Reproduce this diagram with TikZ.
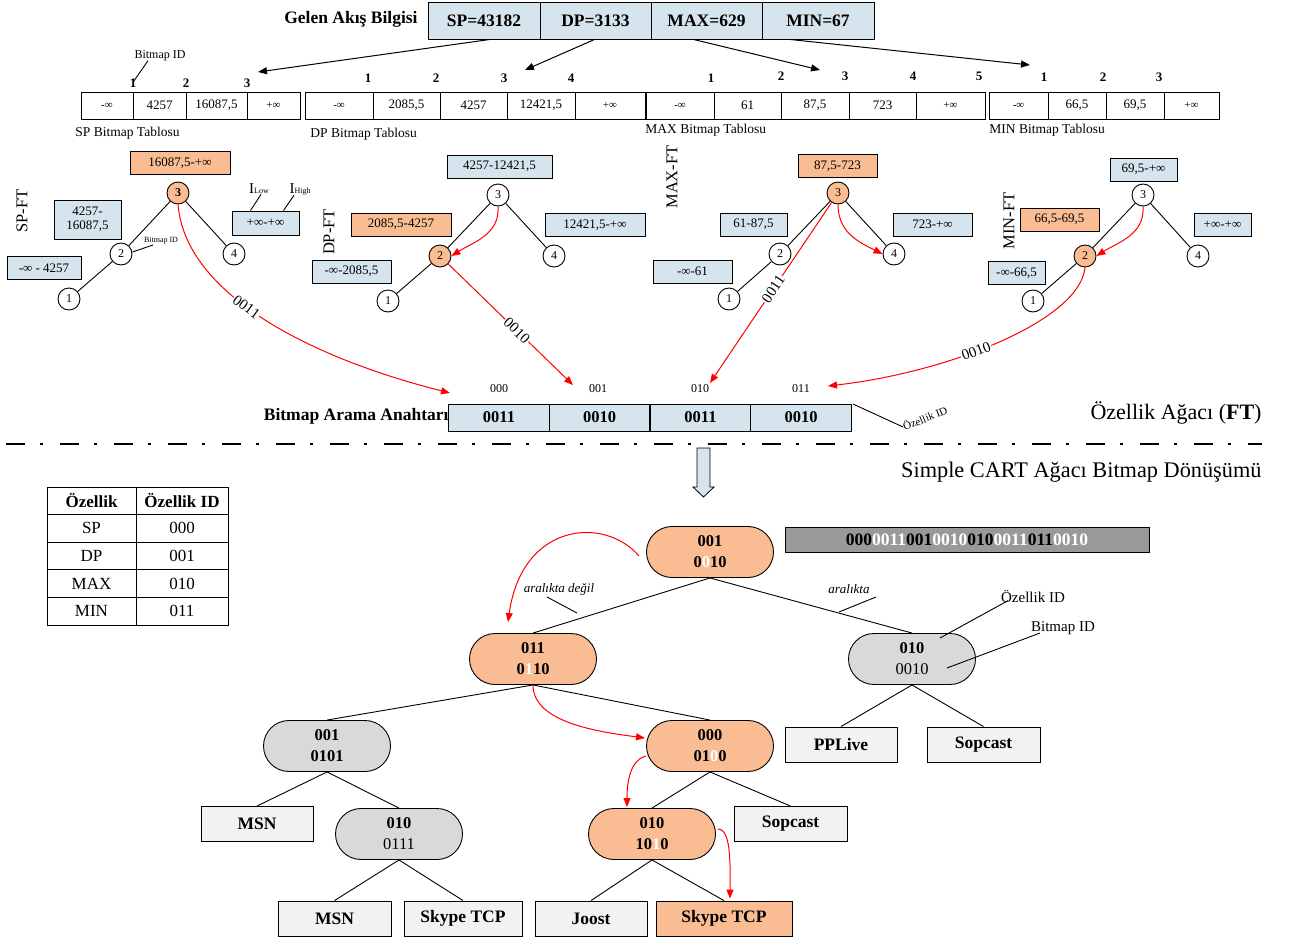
\documentclass[tikz,border=0pt]{standalone}
\usepackage{fontspec}
\setmainfont{Liberation Serif}
\usetikzlibrary{arrows.meta,shapes.misc,calc}
\definecolor{lblue}{RGB}{214,228,237}
\definecolor{lorange}{RGB}{250,188,146}
\definecolor{pillgray}{RGB}{217,217,217}
\definecolor{leafgray}{RGB}{242,242,242}
\definecolor{bargray}{RGB}{153,153,153}
\newcommand\fsz[1]{\fontsize{#1}{#1}\selectfont}
\tikzset{
  hdr/.style={draw, fill=lblue, minimum height=37pt, font=\fsz{17.5}\bfseries},
  tcell/.style={draw, fill=white, minimum height=27pt, font=\fsz{13}},
  infcell/.style={tcell, font=\fsz{11}},
  idnum/.style={font=\fsz{13}\bfseries},
  tcap/.style={font=\fsz{13.5}, anchor=west},
  rng/.style={draw, fill=lblue, font=\fsz{13}, minimum height=23pt},
  rngo/.style={rng, fill=lorange},
  cnode/.style={circle, draw, fill=white, minimum size=22pt, font=\fsz{12}},
  cnodeo/.style={cnode, fill=lorange},
  ftlabel/.style={rotate=90, font=\fsz{16.5}},
  blk/.style={line width=1pt, -{Triangle[length=9pt,width=7pt]}},
  redarr/.style={red, line width=1pt, -{Triangle[length=9pt,width=7pt]}},
  codelbl/.style={sloped, fill=white, inner sep=1pt, font=\fsz{15}, text=black},
  keycell/.style={draw, fill=lblue, minimum width=100.5pt, minimum height=27pt, font=\fsz{16.5}\bfseries},
  keyid/.style={font=\fsz{12}},
  pill/.style={rounded rectangle, draw, minimum width=127pt, minimum height=51pt, align=center,
               font=\fontsize{16.5}{21}\selectfont\bfseries},
  pillo/.style={pill, fill=lorange},
  pillg/.style={pill, fill=pillgray},
  leaf/.style={draw, fill=leafgray, minimum width=112pt, minimum height=35pt, font=\fsz{17.5}\bfseries},
  tab/.style={draw, minimum height=27.6pt, font=\fsz{17}},
}
\begin{document}
\begin{tikzpicture}[x=1pt, y=-1pt, every node/.style={inner sep=0pt}, line width=0.9pt]
\useasboundingbox (0,0) rectangle (1294,940);

% ---------- incoming flow record ----------
\node[anchor=east, font=\fsz{17.5}\bfseries] (gelen) at (418,19) {Gelen Akış Bilgisi};
\node[hdr, minimum width=112pt] (hsp)  at (484,20.5)   {SP=43182};
\node[hdr, minimum width=111pt] (hdp)  at (595.5,20.5) {DP=3133};
\node[hdr, minimum width=111pt] (hmax) at (706.5,20.5) {MAX=629};
\node[hdr, minimum width=112pt] (hmin) at (818,20.5)   {MIN=67};

\coordinate (spin)  at (258,72);
\coordinate (dpin)  at (525,70);
\coordinate (maxin) at (820,70);
\coordinate (minin) at (1030,65);
\draw[blk] ([xshift=6pt]hsp.south)   -- (spin);
\draw[blk] ([xshift=-1pt]hdp.south)  -- (dpin);
\draw[blk] ([xshift=-13pt]hmax.south) -- (maxin);
\draw[blk] ([xshift=-28pt]hmin.south) -- (minin);

% ---------- bitmap tables ----------
\node[infcell, minimum width=52pt] (sp1) at (107,105.5)   {-∞};
\node[tcell, minimum width=53pt]   (sp2) at (159.5,105.5) {4257};
\node[tcell, minimum width=61pt]   (sp3) at (216.5,105.5) {16087,5};
\node[infcell, minimum width=53pt] (sp4) at (273.5,105.5) {+∞};

\node[infcell, minimum width=68pt] (dp1) at (339,105.5)   {-∞};
\node[tcell, minimum width=67pt]   (dp2) at (406.5,105.5) {2085,5};
\node[tcell, minimum width=67pt]   (dp3) at (473.5,105.5) {4257};
\node[tcell, minimum width=68pt]   (dp4) at (541,105.5)   {12421,5};
\node[infcell, minimum width=70pt] (dp5) at (610,105.5)   {+∞};

\node[infcell, minimum width=68pt] (mx1) at (680,105.5)   {-∞};
\node[tcell, minimum width=67pt]   (mx2) at (747.5,105.5) {61};
\node[tcell, minimum width=68pt]   (mx3) at (815,105.5)   {87,5};
\node[tcell, minimum width=67pt]   (mx4) at (882.5,105.5) {723};
\node[infcell, minimum width=69pt] (mx5) at (950.5,105.5) {+∞};

\node[infcell, minimum width=59pt] (mn1) at (1018.5,105.5) {-∞};
\node[tcell, minimum width=58pt]   (mn2) at (1077,105.5)   {66,5};
\node[tcell, minimum width=58pt]   (mn3) at (1135,105.5)   {69,5};
\node[infcell, minimum width=55pt] (mn4) at (1191.5,105.5) {+∞};

% bitmap ids above the boundaries
\node[idnum] (spi1) at (133,83) {1};
\node[idnum] (spi2) at (186,83) {2};
\node[idnum] (spi3) at (247,83) {3};
\node[idnum] (dpi1) at (368,78) {1};
\node[idnum] (dpi2) at (436,78) {2};
\node[idnum] (dpi3) at (504,78) {3};
\node[idnum] (dpi4) at (571,78) {4};
\node[idnum] (mxi1) at (711,78) {1};
\node[idnum] (mxi2) at (781,76) {2};
\node[idnum] (mxi3) at (845,76) {3};
\node[idnum] (mxi4) at (913,76) {4};
\node[idnum] (mxi5) at (979,76) {5};
\node[idnum] (mni1) at (1044,77) {1};
\node[idnum] (mni2) at (1103,77) {2};
\node[idnum] (mni3) at (1159,77) {3};

\node[font=\fsz{12}] (bidtop) at (160,56) {Bitmap ID};
\draw ([xshift=-12pt,yshift=1pt]bidtop.south) -- ([yshift=-4pt]spi1.north);

\node[tcap] (spcap)  at (75,133)  {SP Bitmap Tablosu};
\node[tcap] (dpcap)  at (310,134) {DP Bitmap Tablosu};
\node[tcap] (mxcap)  at (645,130) {MAX Bitmap Tablosu};
\node[tcap] (mncap)  at (989,130) {MIN Bitmap Tablosu};

% ---------- SP feature tree ----------
\node[ftlabel] (spft) at (22,211) {SP-FT};
\node[cnodeo, font=\fsz{12}\bfseries] (s3) at (178,193) {3};
\node[cnode] (s2) at (121,254) {2};
\node[cnode] (s4) at (234,254) {4};
\node[cnode] (s1) at (69,299)  {1};
\draw (s3) -- (s2); \draw (s3) -- (s4); \draw (s2) -- (s1);
\node[rngo, minimum width=100pt] (sa) at (180,163) {16087,5-+∞};
\node[rng, minimum width=67pt, minimum height=39pt, align=center, font=\fontsize{13}{14}\selectfont] (sb) at (87.5,219.5) {4257-\\16087,5};
\node[rng, minimum width=74pt] (sc) at (44,268) {-∞ - 4257};
\node[rng, minimum width=67pt, minimum height=24pt] (sd) at (265.5,223) {+∞-+∞};
\node (ilow)  at (259,189) {\fsz{15}I\fsz{8}Low};
\node (ihigh) at (300,189) {\fsz{15}I\fsz{8}High};
\draw ([xshift=2pt]ilow.south) -- ([xshift=-15pt]sd.north);
\draw ([xshift=-6pt]ihigh.south) -- ([xshift=18pt]sd.north);
\node[font=\fsz{8}] (sbid) at (161,241) {Bitmap ID};
\draw (s2.east) ++(0,-2) coordinate (s2e) (s2e) -- ([xshift=-8pt]sbid.south);

% ---------- DP feature tree ----------
\node[ftlabel] (dpft) at (329,232) {DP-FT};
\node[cnode]  (d3) at (498,195) {3};
\node[cnodeo] (d2) at (440,256) {2};
\node[cnode]  (d4) at (554,256) {4};
\node[cnode]  (d1) at (388,301) {1};
\draw (d3) -- (d2); \draw (d3) -- (d4); \draw (d2) -- (d1);
\node[rng, minimum width=105pt]  (da) at (499.5,166.5) {4257-12421,5};
\node[rngo, minimum width=100pt] (db) at (401,224.5)   {2085,5-4257};
\node[rng, minimum width=100pt]  (dd) at (595,225)     {12421,5-+∞};
\node[rng, minimum width=79pt]   (dc) at (351.5,271.5) {-∞-2085,5};
\draw[redarr] (d3.south) .. controls +(2,28) and +(22,-14) .. (d2.east);

% ---------- MAX feature tree ----------
\node[ftlabel] (mxft) at (672,177) {MAX-FT};
\node[cnodeo] (m3) at (838,193) {3};
\node[cnode]  (m2) at (780,254) {2};
\node[cnode]  (m4) at (894,254) {4};
\node[cnode]  (m1) at (729,299) {1};
\draw (m3) -- (m2); \draw (m3) -- (m4); \draw (m2) -- (m1);
\node[rngo, minimum width=79pt] (ma) at (837.5,166)   {87,5-723};
\node[rng, minimum width=67pt]  (mb) at (753.5,224.5) {61-87,5};
\node[rng, minimum width=79pt]  (md) at (932.5,224.5) {723-+∞};
\node[rng, minimum width=79pt]  (mc) at (692.5,271.5) {-∞-61};
\draw[redarr] (m3.south) .. controls +(0,28) and +(-24,-12) .. (m4.west);

% ---------- MIN feature tree ----------
\node[ftlabel] (mnft) at (1009,221) {MIN-FT};
\node[cnode]  (n3) at (1143,195) {3};
\node[cnodeo] (n2) at (1085,256) {2};
\node[cnode]  (n4) at (1198,256) {4};
\node[cnode]  (n1) at (1033,301) {1};
\draw (n3) -- (n2); \draw (n3) -- (n4); \draw (n2) -- (n1);
\node[rng, minimum width=67pt]  (na) at (1143.5,169.5) {69,5-+∞};
\node[rngo, minimum width=79pt] (nb) at (1059.5,219.5) {66,5-69,5};
\node[rng, minimum width=57pt]  (nd) at (1222.5,224.5) {+∞-+∞};
\node[rng, minimum width=57pt]  (nc) at (1016.5,273)   {-∞-66,5};
\draw[redarr] (n3.south) .. controls +(2,28) and +(22,-14) .. (n2.east);

% ---------- bitmap search key ----------
\node[anchor=east, font=\fsz{17.5}\bfseries] (keylbl) at (449,416) {Bitmap Arama Anahtarı};
\node[keycell] (k1) at (499,417.5)   {0011};
\node[keycell] (k2) at (599.5,417.5) {0010};
\node[keycell] (k3) at (700.5,417.5) {0011};
\node[keycell] (k4) at (801,417.5)   {0010};
\node[keyid] (kid1) at (499,389) {000};
\node[keyid] (kid2) at (598,389) {001};
\node[keyid] (kid3) at (700,389) {010};
\node[keyid] (kid4) at (801,389) {011};
\coordinate (fidtop) at (853,404);
\node[rotate=22, font=\fsz{11}] (fidl) at (925,418) {Özellik ID};
\draw (fidtop) -- (fidl.west);

\coordinate (kt1) at (450,393);
\coordinate (kt2) at (573,385);
\coordinate (kt3) at (710,383);
\coordinate (kt4) at (828,386);
\draw[redarr] (s3.south) .. controls (185,290) and (300,355) .. (kt1) node[codelbl, pos=0.45] {0011};
\draw[redarr] (d2) -- (kt2) node[codelbl, pos=0.55] {0010};
\draw[redarr] (m3) -- (kt3) node[codelbl, pos=0.48] {0011};
\draw[redarr] (n2.south) .. controls (1080,320) and (950,372) .. (kt4) node[codelbl, pos=0.58] {0010};

\node[anchor=east, font=\fsz{22}] (ftcap) at (1262,413) {Özellik Ağacı (\textbf{FT})};

% ---------- separator and transition arrow ----------
\draw[line width=1.3pt, dash pattern=on 19pt off 15pt on 3pt off 17pt] (6,444) -- (1262,444);
\draw[fill=lblue, line width=0.8pt] (697,448) -- (710,448) -- (710,487) -- (714,487) -- (703.5,497) -- (693,487) -- (697,487) -- cycle;
\node[anchor=east, font=\fsz{22.3}] (cartcap) at (1262,472) {Simple CART Ağacı Bitmap Dönüşümü};

% ---------- feature id table ----------
\node[tab, minimum width=89pt, font=\fsz{17}\bfseries] (th1) at (91.5,500.8) {Özellik};
\node[tab, minimum width=92pt, font=\fsz{17}\bfseries] (th2) at (182,500.8)  {Özellik ID};
\node[tab, minimum width=89pt] (ta1) at (91.5,528.4) {SP};
\node[tab, minimum width=92pt] (tb1) at (182,528.4)  {000};
\node[tab, minimum width=89pt] (ta2) at (91.5,556)   {DP};
\node[tab, minimum width=92pt] (tb2) at (182,556)    {001};
\node[tab, minimum width=89pt] (ta3) at (91.5,583.6) {MAX};
\node[tab, minimum width=92pt] (tb3) at (182,583.6)  {010};
\node[tab, minimum width=89pt] (ta4) at (91.5,611.2) {MIN};
\node[tab, minimum width=92pt] (tb4) at (182,611.2)  {011};

% ---------- CART tree ----------
\node[pillo] (root) at (710,552) {001\\0{\color{white}0}10};
\node[draw, fill=bargray, minimum width=364pt, minimum height=25pt, font=\fsz{17.5}\bfseries] (bar) at (967,539.5)
  {000{\color{white}0011}001{\color{white}0010}010{\color{white}0011}011{\color{white}0010}};
\node[pillo] (L1)  at (533,659) {011\\0{\color{white}1}10};
\node[pillg] (R1)  at (912,659) {010\\{\mdseries 0010}};
\node[pillg] (L2a) at (327,746) {001\\0101};
\node[pillo] (L2b) at (710,746) {000\\01{\color{white}0}0};
\node[pillg] (L3a) at (399,834) {010\\{\mdseries 0111}};
\node[pillo] (L3b) at (652,834) {010\\10{\color{white}1}0};

\node[leaf] (pplive) at (841,744.5)  {PPLive};
\node[leaf, minimum width=113pt] (sop1) at (983.5,744.5) {Sopcast};
\node[leaf] (msn1)  at (257,824)   {MSN};
\node[leaf, minimum width=113pt] (sop2) at (790.5,824) {Sopcast};
\node[leaf, minimum width=113pt] (msn2) at (334.5,918.5) {MSN};
\node[leaf, minimum width=118pt] (sky1) at (463,918.5)  {Skype TCP};
\node[leaf] (joost) at (591,918.5) {Joost};
\node[leaf, minimum width=136pt, fill=lorange] (sky2) at (724,918.5) {Skype TCP};

\draw (root.south) -- (L1.north);
\draw (root.south) -- (R1.north);
\draw (L1.south) -- (L2a.north);
\draw (L1.south) -- (L2b.north);
\draw (R1.south) -- (pplive.north);
\draw (R1.south) -- (sop1.north);
\draw (L2a.south) -- (msn1.north);
\draw (L2a.south) -- (L3a.north);
\draw (L2b.south) -- (L3b.north);
\draw (L2b.south) -- (sop2.north);
\draw (L3a.south) -- (msn2.north);
\draw (L3a.south) -- (sky1.north);
\draw (L3b.south) -- (joost.north);
\draw (L3b.south) -- (sky2.north);

% edge annotations
\node[font=\fsz{13}\itshape] (ard) at (559,589) {aralıkta değil};
\draw (547,597) coordinate (ardA) (ardA) -- (577,613) coordinate (ardB);
\node[font=\fsz{13}\itshape] (ar) at (849,589) {aralıkta};
\draw (876,597) coordinate (arA) (arA) -- (839,612) coordinate (arB);
\node[font=\fsz{15}] (fidr) at (1033,596) {Özellik ID};
\coordinate (fidp) at (940,638);
\draw ([xshift=-25pt,yshift=2pt]fidr.south) -- (fidp);
\node[font=\fsz{15}] (bidr) at (1063,628) {Bitmap ID};
\coordinate (bidp) at (947,668);
\draw ([xshift=-23pt,yshift=2pt]bidr.south) -- (bidp);

% search path
\coordinate (p0) at (639,556);
\coordinate (p1) at (508,622);
\draw[redarr] (p0) .. controls (605,516) and (522,522) .. (p1);
\draw[redarr] (L1.south) .. controls +(0,38) and +(-45,-6) .. ($(L2b.west)+(-1,-8)$);
\draw[redarr] ($(L2b.west)+(0,10)$) .. controls +(-16,4) and +(0,-25) .. ($(L3b.north)+(-25,-1)$);
\draw[redarr] ($(L3b.east)+(2,-5)$) .. controls +(14,0) and +(0,-30) .. ($(sky2.north)+(6,-2)$);
\end{tikzpicture}
\end{document}
